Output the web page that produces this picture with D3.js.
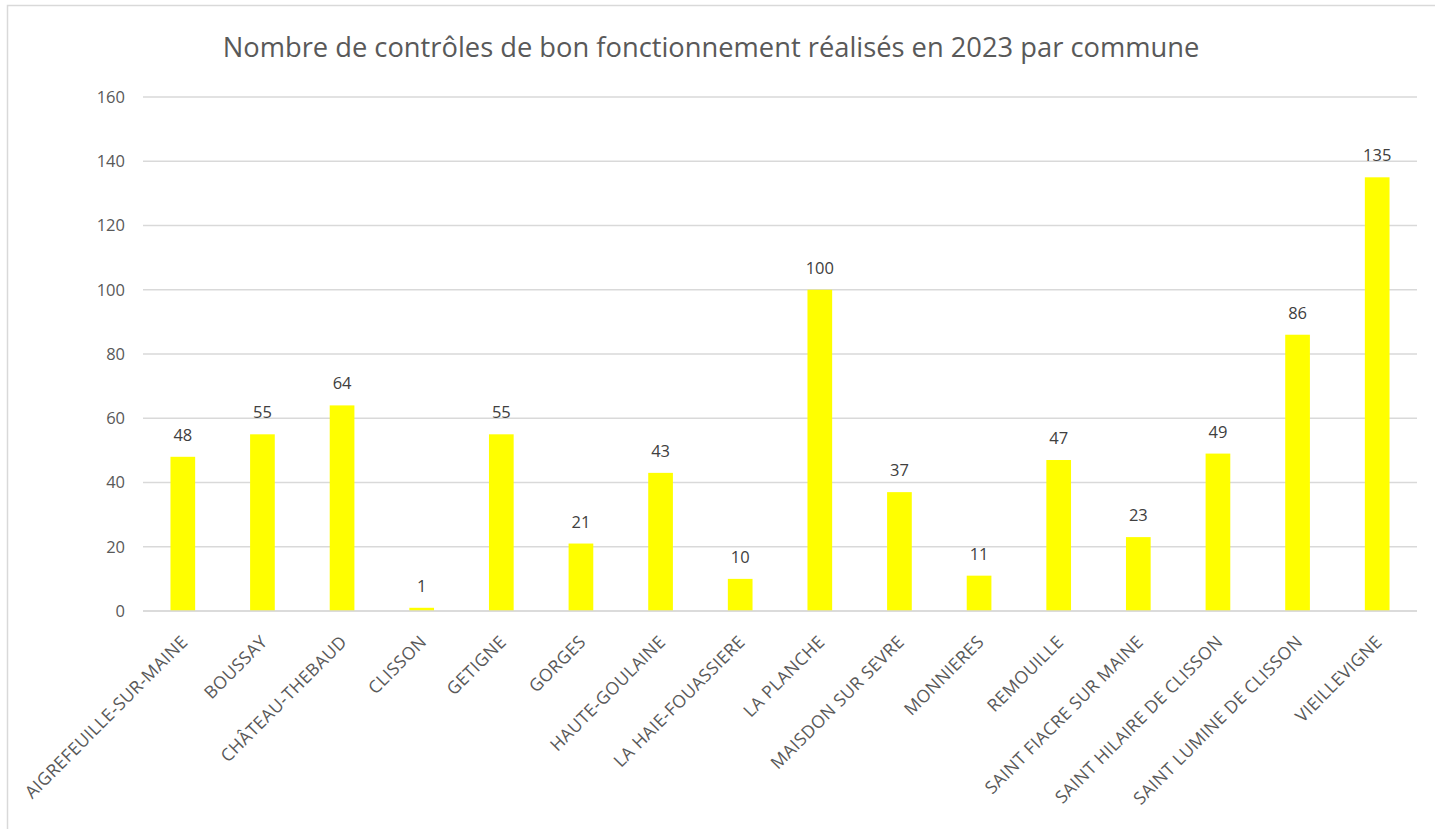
<!DOCTYPE html>
<html>
<head>
<meta charset="utf-8">
<script src="https://cdn.jsdelivr.net/npm/d3@7"></script>
<style>
  body { margin: 0; background: #fff; }
  svg text { font-family: "Open Sans", "Noto Sans", sans-serif; }
</style>
</head>
<body>
<svg id="chart" width="1435" height="829"></svg>
<script>
const title = 'Nombre de contrôles de bon fonctionnement réalisés en 2023 par commune'

const communes = [
  'AIGREFEUILLE-SUR-MAINE', 'BOUSSAY', 'CHÂTEAU-THEBAUD', 'CLISSON', 'GETIGNE',
  'GORGES', 'HAUTE-GOULAINE', 'LA HAIE-FOUASSIERE', 'LA PLANCHE', 'MAISDON SUR SEVRE',
  'MONNIERES', 'REMOUILLE', 'SAINT FIACRE SUR MAINE', 'SAINT HILAIRE DE CLISSON',
  'SAINT LUMINE DE CLISSON', 'VIEILLEVIGNE',
]
const controles = [48, 55, 64, 1, 55, 21, 43, 10, 100, 37, 11, 47, 23, 49, 86, 135]
const yTicks = [0, 20, 40, 60, 80, 100, 120, 140, 160]

const svg = d3.select('#chart')

// chart area border (Excel style)
svg.append('rect')
  .attr('x', 7.5).attr('y', 5.5)
  .attr('width', 1440).attr('height', 840)
  .attr('fill', 'none')
  .attr('stroke', '#d9d9d9')
  .attr('stroke-width', 1.5)

const margin = { top: 97, left: 143, right: 18, bottom: 218 }
const width = 1435 - margin.left - margin.right
const height = 829 - margin.top - margin.bottom

const g = svg.append('g').attr('transform', `translate(${margin.left},${margin.top})`)

const x = d3.scaleBand().domain(communes).range([0, width]).paddingInner(0.69).paddingOuter(0.345)
const y = d3.scaleLinear().domain([0, 160]).range([height, 0])

// gridlines
g.selectAll('.grid')
  .data(yTicks)
  .join('line')
  .attr('x1', 0).attr('x2', width)
  .attr('y1', (d) => y(d)).attr('y2', (d) => y(d))
  .attr('stroke', '#d9d9d9')
  .attr('stroke-width', 1.5)

// y axis labels
const yAxis = g.append('g').call(d3.axisLeft(y).tickValues(yTicks).tickSize(0).tickPadding(18))
yAxis.select('.domain').remove()
yAxis.selectAll('text')
  .attr('fill', '#595959')
  .style('font-size', '16.5px')

// bars
g.selectAll('.bar')
  .data(controles)
  .join('rect')
  .attr('x', (d, i) => x(communes[i]))
  .attr('y', (d) => y(d))
  .attr('width', x.bandwidth())
  .attr('height', (d) => height - y(d))
  .attr('fill', '#ffff00')

// value labels
g.selectAll('.val')
  .data(controles)
  .join('text')
  .attr('x', (d, i) => x(communes[i]) + x.bandwidth() / 2)
  .attr('y', (d) => y(d) - 16)
  .attr('text-anchor', 'middle')
  .attr('fill', '#404040')
  .style('font-size', '16.5px')
  .text((d) => d)

// x axis labels, rotated
const xAxis = g.append('g')
  .attr('transform', `translate(0,${height})`)
  .call(d3.axisBottom(x).tickSize(0).tickPadding(0))
xAxis.select('.domain').remove()
xAxis.selectAll('text')
  .attr('fill', '#595959')
  .style('font-size', '17.5px')
  .style('letter-spacing', '0.4px')
  .attr('text-anchor', 'end')
  .attr('dy', null)
  .attr('transform', 'translate(6,32) rotate(-45)')

// zero line on top of bars
g.append('line')
  .attr('x1', 0).attr('x2', width)
  .attr('y1', y(0)).attr('y2', y(0))
  .attr('stroke', '#d9d9d9')
  .attr('stroke-width', 1.5)

// title
svg.append('text')
  .attr('x', 711)
  .attr('y', 57)
  .attr('text-anchor', 'middle')
  .attr('fill', '#595959')
  .style('font-size', '27.3px')
  .text(title)
</script>
</body>
</html>
